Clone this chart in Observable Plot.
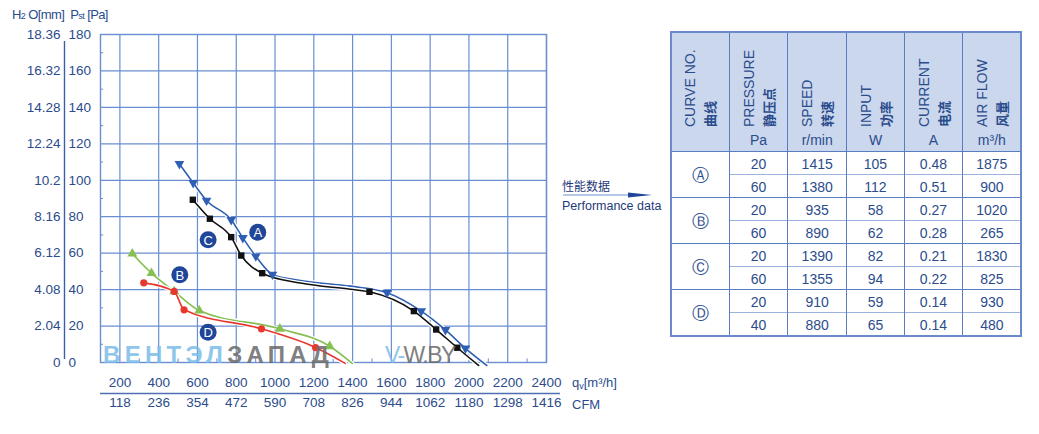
<!DOCTYPE html>
<html><head><meta charset="utf-8">
<script src="https://cdn.jsdelivr.net/npm/d3@7"></script>
<script src="https://cdn.jsdelivr.net/npm/@observablehq/plot@0.6"></script>
<style>
body{margin:0;background:#fff;width:1039px;height:434px;overflow:hidden;position:relative;font-family:"Liberation Sans",Arial,sans-serif;color:#2b4c8c;}
#chart{position:absolute;left:0;top:0;}
.abs{position:absolute;white-space:nowrap;}
</style></head><body>
<div id="chart"></div>
<script>
// ---------- data ----------
const flowTicks = [200,400,600,800,1000,1200,1400,1600,1800,2000,2200,2400];
const cfmLabels = [118,236,354,472,590,708,826,944,1062,1180,1298,1416];
const paTicks = [0,20,40,60,80,100,120,140,160,180];
const mmLabels = ["0","2.04","4.08","6.12","8.16","10.2","12.24","14.28","16.32","18.36"];
const minorPa = [10,30,50,70,90,110,130,150,170];
const minorFlow = [300,500,700,900,1100,1300,1500,1700,1900,2100,2300];
const xDomain = [100,2400];
const yDomain = [0,180];

// curve markers [flow m3/h, pressure Pa]
const markersA = [[507,109.0],[578,98.6],[647,88.9],[774,78.3],[834,68.4],[901,58.3],[987,48.3],[1578,38.3],[1754,28.2],[1879,17.9],[1982,7.8]];
const markersC = [[576,89.3],[664,78.9],[774,68.8],[826,58.7],[934,49.0],[1487,38.8],[1716,28.2],[1831,18.1],[1940,8.1]];
const markersB = [[264,59.7],[363,49.0],[480,39.0],[609,28.5],[1025,18.5],[1282,8.9]];
const markersD = [[323,43.7],[480,39.0],[531,28.9],[930,18.5],[1209,8.2]];
// curve lines (markers plus read-off points between them and the end point)
const lineA = [[507,109.0],[578,98.6],[647,88.9],[774,78.3],[834,68.4],[901,58.3],[987,48.3],[1131,45.0],[1389,41.9],[1578,38.3],[1754,28.2],[1879,17.9],[1982,7.8],[2092,-1.6]];
const lineC = [[576,89.3],[664,78.9],[774,68.8],[826,58.7],[934,49.0],[1131,43.6],[1389,40.2],[1487,38.8],[1716,28.2],[1831,18.1],[1940,8.1],[2050,-1.6]];
const lineB = [[264,59.7],[363,49.0],[480,39.0],[609,28.5],[1025,18.5],[1282,8.9],[1398,-0.5]];
const lineD = [[323,43.7],[480,39.0],[531,28.9],[930,18.5],[1209,8.2],[1362,-0.5]];
const curveLabels = [{k:"A",x:911,y:71.5},{k:"C",x:655,y:67.3},{k:"B",x:509,y:48.1},{k:"D",x:655,y:16.6}];

// table
const headerEn = ["CURVE NO.","PRESSURE","SPEED","INPUT","CURRENT","AIR FLOW"];
const headerZh = ["曲线","静压点","转速","功率","电流","风量"];
const headerUnit = ["","Pa","r/min","W","A","m³/h"];
const curveNames = ["Ⓐ","Ⓑ","Ⓒ","Ⓓ"];
const tPressure = [["20","60"],["20","60"],["20","60"],["20","40"]];
const tSpeed = [["1415","1380"],["935","890"],["1390","1355"],["910","880"]];
const tInput = [["105","112"],["58","62"],["82","94"],["59","65"]];
const tCurrent = [["0.48","0.51"],["0.27","0.28"],["0.21","0.22"],["0.14","0.14"]];
const tAirflow = [["1875","900"],["1020","265"],["1830","825"],["930","480"]];

// ---------- chart ----------
const gridColor = "#6a8ecf";
const textColor = "#2b4c8c";
const blue = "#2f5fb3", black = "#111111", green = "#86c053", red = "#e8372c", navy = "#1f4699";
const P = d => ({x:d[0], y:d[1]});
const curve = "monotone-x";
function lineMarks(pts, color){
  const data = pts.map(P);
  return [
    Plot.line(data, {x:"x", y:"y", stroke:"white", strokeWidth:4, curve}),
    Plot.line(data, {x:"x", y:"y", stroke:color, strokeWidth:1.6, curve})
  ];
}
const plot = Plot.plot({
  width: 600, height: 434,
  marginLeft: 100, marginRight: 54, marginTop: 34, marginBottom: 72,
  x: {domain: xDomain, axis: null},
  y: {domain: yDomain, axis: null},
  style: {fontFamily: "'Liberation Sans', Arial, sans-serif", fontSize: "13.5px", color: textColor, background: "transparent", overflow: "visible"},
  marks: [
    Plot.gridX(flowTicks, {stroke: gridColor, strokeOpacity: 1, strokeWidth: 1.2}),
    Plot.gridY(paTicks, {stroke: gridColor, strokeOpacity: 1, strokeWidth: 1.2}),
    Plot.frame({stroke: gridColor, strokeWidth: 1.4}),
    Plot.ruleY(minorPa, {y: d => d, x1: () => xDomain[0], x2: () => xDomain[0] + 16, stroke: gridColor, strokeWidth: 1}),
    Plot.ruleX(minorFlow, {x: d => d, y1: () => 0, y2: () => 2, stroke: gridColor, strokeWidth: 1}),
    // left double axis
    Plot.ruleX([xDomain[0]], {y1: () => yDomain[0], y2: () => yDomain[1], dx: -36, stroke: "#3d5ea6", strokeWidth: 1.4, insetTop: -3, insetBottom: -7}),
    Plot.text(paTicks, {y: d => d, text: d => String(d), frameAnchor: "left", dx: -32, textAnchor: "start", fill: textColor}),
    Plot.text(paTicks, {y: d => d, text: (d, i) => mmLabels[i], frameAnchor: "left", dx: -40, textAnchor: "end", fill: textColor}),
    // bottom double axis
    Plot.text(flowTicks, {x: d => d, text: d => String(d), frameAnchor: "bottom", dy: 24, fill: textColor}),
    Plot.text(flowTicks, {x: d => d, text: (d, i) => String(cfmLabels[i]), frameAnchor: "bottom", dy: 44, fill: textColor}),
    Plot.ruleY([yDomain[0]], {dy: 31, insetRight: -14, stroke: "#4f6fb3", strokeWidth: 1.6}),
    // curves
    ...lineMarks(lineB, green),
    ...lineMarks(lineD, red),
    ...lineMarks(lineA, blue),
    ...lineMarks(lineC, black),
    Plot.dot(markersB.map(P), {x: "x", y: "y", symbol: "triangle", r: 3.7, fill: green}),
    Plot.dot(markersD.map(P), {x: "x", y: "y", symbol: "circle", r: 3.6, fill: red}),
    Plot.dot(markersA.map(P), {x: "x", y: "y", symbol: "triangle", rotate: 180, r: 3.6, fill: blue}),
    Plot.dot(markersC.map(P), {x: "x", y: "y", symbol: "square", r: 3.6, fill: black}),
    Plot.dot(curveLabels, {x: "x", y: "y", r: 8.5, fill: navy}),
    Plot.text(curveLabels, {x: "x", y: "y", text: "k", fill: "white", fontSize: 13, dy: 0.5})
  ]
});
document.getElementById("chart").appendChild(plot);

// ---------- html text ----------
function el(css, text, html){
  const e = document.createElement("div");
  e.className = "abs";
  e.style.cssText += css;
  if (html) e.innerHTML = html; else if (text != null) e.textContent = text;
  document.body.appendChild(e);
  return e;
}
// axis titles
el("left:12px;top:7px;font-size:13px;letter-spacing:-0.6px;", null, "H<span style='font-size:9px'>2</span> O[mm]&nbsp; P<span style='font-size:9px'>st</span> [Pa]");
el("left:572px;top:375px;font-size:13px;", null, "q<span style='font-size:9px;position:relative;top:2px'>v</span>[m³/h]");
el("left:572px;top:397px;font-size:13px;", "CFM");

// watermark
el("left:103px;top:343px;font-size:24px;line-height:24px;font-weight:bold;letter-spacing:4.3px;opacity:0.85;", null,
  "<span style='color:#7cbde9'>ВЕНТЭЛ</span><span style='color:#6a6a6a'>ЗАПАД</span>");
el("left:385px;top:343px;font-size:23px;line-height:24px;letter-spacing:-1.6px;opacity:0.85;", null,
  "<span style='color:#7cbde9'>V-</span><span style='color:#6a6a6a'>W.BY</span>");

// performance data arrow
el("left:562px;top:177px;font-size:12px;font-family:'Noto Sans CJK SC';color:#1f3a7a;", "性能数据");
el("left:562px;top:199px;font-size:12.5px;color:#1f3a7a;", "Performance data");
const arr = document.createElementNS("http://www.w3.org/2000/svg","svg");
arr.setAttribute("width","100"); arr.setAttribute("height","10");
arr.style.cssText = "position:absolute;left:560px;top:190px;";
arr.innerHTML = "<line x1='3' y1='5' x2='75' y2='5' stroke='#6f91cf' stroke-width='1.2'/><path d='M68,2.5 L92,5 L68,7.5 Z' fill='#1f4699'/>";
document.body.appendChild(arr);

// table
const colX = [671, 729.3, 787.7, 846.7, 904.3, 962.7, 1021];
const tTop = 32, headBottom = 151.5, rowH = 23, tBottom = headBottom + 8 * rowH;
const tW = colX[6] - colX[0];
const lineCol = "#5a7cc0", lightLine = "#9db2dc";
el(`left:${colX[0]}px;top:${tTop}px;width:${tW}px;height:${headBottom - tTop}px;background:#cad7ec;`);
for (let c = 0; c < 6; c++) {
  const cx = (colX[c] + colX[c + 1]) / 2;
  el(`left:${cx - 45}px;top:${82 - 19}px;width:90px;height:38px;transform:rotate(-90deg);font-size:14px;line-height:19px;text-align:left;color:${textColor};`,
     null, `<div>${headerEn[c]}</div><div style="font-family:'Noto Sans CJK SC';font-size:13px;font-weight:bold">${headerZh[c]}</div>`);
  el(`left:${colX[c]}px;top:131px;width:${colX[c + 1] - colX[c]}px;text-align:center;font-size:14px;line-height:18px;color:${textColor};`, headerUnit[c]);
}
const cols = [tPressure, tSpeed, tInput, tCurrent, tAirflow];
for (let g = 0; g < 4; g++) {
  const gy = headBottom + g * 2 * rowH;
  el(`left:${colX[0]}px;top:${gy + rowH - 11}px;width:${colX[1] - colX[0]}px;text-align:center;font-family:'DejaVu Sans';font-size:17px;line-height:22px;color:${textColor};`, curveNames[g]);
  for (let r = 0; r < 2; r++) {
    const ry = gy + r * rowH;
    cols.forEach((col, k) => {
      el(`left:${colX[k + 1]}px;top:${ry + 2}px;width:${colX[k + 2] - colX[k + 1]}px;text-align:center;font-size:14px;line-height:20px;color:${textColor};`, col[g][r]);
    });
  }
  el(`left:${colX[1]}px;top:${gy + rowH - 0.5}px;width:${colX[6] - colX[1]}px;height:1px;background:${lightLine};`);
  el(`left:${colX[0]}px;top:${gy - 0.75}px;width:${tW}px;height:1.5px;background:${lineCol};`);
}
for (let c = 1; c < 6; c++) {
  el(`left:${colX[c] - 0.5}px;top:${tTop}px;width:1px;height:${tBottom - tTop}px;background:${lineCol};`);
}
el(`left:${colX[0] - 1}px;top:${tTop - 1}px;width:${tW + 2}px;height:${tBottom - tTop + 2}px;border:2px solid #6a8bca;box-sizing:border-box;`);
</script>
</body></html>
